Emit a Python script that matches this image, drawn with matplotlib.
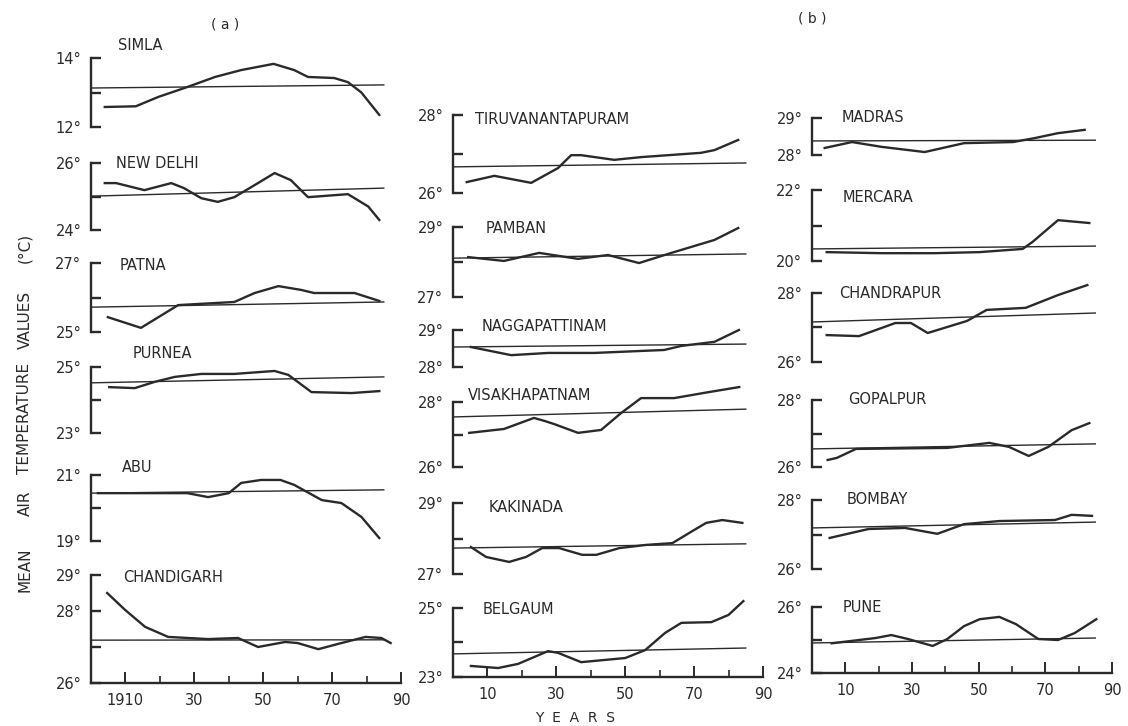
import matplotlib
matplotlib.use("Agg")
import matplotlib.pyplot as plt

# figure size in pixels (dpi 100)
W, H = 1128, 726
INK = "#2a2a2a"

# years counted from 1900, mean air temperature (deg C)
SIMLA_YR = [4, 13, 19.5, 28, 36, 43.6, 53, 59, 63, 70.6, 74.6, 78.5, 83.7]
SIMLA_T = [12.58, 12.6, 12.87, 13.16, 13.45, 13.65, 13.83, 13.65, 13.45, 13.42, 13.3, 13.0, 12.35]
DELHI_YR = [4, 7.3, 15.5, 23.3, 27, 32, 36.8, 41.6, 47.5, 53.3, 58, 63, 74.6, 80.5, 83.7]
DELHI_T = [25.4, 25.4, 25.19, 25.4, 25.25, 24.95, 24.84, 24.98, 25.34, 25.7, 25.49, 24.98, 25.07, 24.7, 24.3]
PATNA_YR = [4.9, 14.5, 25.3, 41.6, 47.5, 54.4, 61, 64.8, 76.5, 83.7]
PATNA_T = [25.43, 25.12, 25.78, 25.87, 26.13, 26.33, 26.22, 26.13, 26.13, 25.9]
PURNEA_YR = [5.3, 12.7, 18.5, 24.3, 32, 41.6, 53.3, 57.3, 64, 75.6, 83.7]
PURNEA_T = [24.39, 24.36, 24.55, 24.7, 24.79, 24.79, 24.88, 24.76, 24.24, 24.21, 24.27]
ABU_YR = [2, 28, 34, 40, 43.6, 49.4, 55, 59, 67, 72.7, 78.5, 83.7]
ABU_T = [20.45, 20.45, 20.33, 20.45, 20.76, 20.85, 20.85, 20.7, 20.24, 20.15, 19.73, 19.09]
CHANDIGARH_YR = [4.7, 9.9, 15.7, 22.4, 34, 42.7, 48.5, 56.4, 60, 66, 72.7, 79.7, 84.3, 87]
CHANDIGARH_T = [28.5, 28.03, 27.56, 27.28, 27.22, 27.25, 27.0, 27.14, 27.11, 26.94, 27.11, 27.28, 27.25, 27.11]

TIRUV_YR = [4, 12, 22.7, 30.5, 34.3, 37.2, 46.8, 54.6, 72, 75.9, 82.8]
TIRUV_T = [26.28, 26.44, 26.26, 26.64, 26.97, 26.97, 26.85, 26.92, 27.03, 27.1, 27.36]
PAMBAN_YR = [4.4, 14.8, 25, 36.3, 45, 54, 63.4, 75.9, 82.8]
PAMBAN_T = [28.14, 28.03, 28.26, 28.09, 28.2, 27.97, 28.26, 28.63, 28.97]
NAGG_YR = [5.2, 16.9, 27.6, 41, 61.3, 66.3, 75.9, 83]
NAGG_T = [28.54, 28.32, 28.38, 28.38, 28.46, 28.57, 28.68, 29.0]
VISAKH_YR = [4.7, 14.8, 23.5, 26.5, 29.4, 36.3, 43, 48.8, 54.6, 64.2, 74, 83.1]
VISAKH_T = [27.05, 27.17, 27.51, 27.42, 27.32, 27.05, 27.14, 27.66, 28.12, 28.12, 28.3, 28.46]
KAKINADA_YR = [5.2, 9.6, 16.3, 21.2, 25.9, 30.8, 37.5, 41.6, 48.3, 56.1, 63.7, 69.5, 73.5, 78.2, 84]
KAKINADA_T = [27.76, 27.48, 27.34, 27.48, 27.73, 27.73, 27.54, 27.54, 27.73, 27.82, 27.87, 28.21, 28.44, 28.52, 28.44]
BELGAUM_YR = [5.2, 13.1, 18.9, 27.6, 30.5, 37.2, 50, 55.8, 61.6, 66.3, 75, 80, 84.3]
BELGAUM_T = [23.32, 23.26, 23.38, 23.75, 23.7, 23.43, 23.55, 23.78, 24.28, 24.57, 24.59, 24.8, 25.2]

MADRAS_YR = [3.8, 12, 20.9, 33.8, 45.6, 60.3, 67, 73.8, 81.8]
MADRAS_T = [28.19, 28.35, 28.22, 28.08, 28.32, 28.35, 28.46, 28.59, 28.68]
MERCARA_YR = [4.4, 20.9, 36.8, 50.3, 63.2, 66.2, 73.8, 83.2]
MERCARA_T = [20.25, 20.22, 20.22, 20.25, 20.34, 20.54, 21.15, 21.07]
CHANDRAPUR_YR = [4.4, 14.1, 25, 29.7, 34.7, 46.5, 52.4, 64.1, 73.8, 82.6]
CHANDRAPUR_T = [26.78, 26.75, 27.13, 27.13, 26.84, 27.19, 27.51, 27.57, 27.94, 28.23]
GOPALPUR_YR = [4.7, 7.4, 13.2, 40.6, 53.2, 59.1, 65, 70.9, 77.9, 83.2]
GOPALPUR_T = [26.21, 26.27, 26.54, 26.57, 26.72, 26.6, 26.33, 26.6, 27.1, 27.31]
BOMBAY_YR = [5.3, 17, 27.9, 37.6, 45.6, 56.2, 72.9, 77.9, 84]
BOMBAY_T = [26.9, 27.16, 27.19, 27.02, 27.3, 27.39, 27.42, 27.57, 27.54]
PUNE_YR = [5.9, 19.1, 23.8, 28.8, 36.2, 40.6, 45.6, 50.3, 56.2, 61.2, 67.9, 73.8, 78.8, 85.3]
PUNE_T = [24.9, 25.06, 25.15, 25.03, 24.82, 25.03, 25.42, 25.63, 25.7, 25.48, 25.03, 25.0, 25.21, 25.63]

# linear trend line: value at start and end of TREND_YR
TREND_YR = [0, 85]
TRENDS = {
    "SIMLA": [13.13, 13.22], "NEW DELHI": [25.01, 25.25], "PATNA": [25.72, 25.87],
    "PURNEA": [24.52, 24.70], "ABU": [20.45, 20.55], "CHANDIGARH": [27.19, 27.2],
    "TIRUVANANTAPURAM": [26.67, 26.77], "PAMBAN": [28.11, 28.23], "NAGGAPATTINAM": [28.54, 28.62],
    "VISAKHAPATNAM": [27.54, 27.78], "KAKINADA": [27.73, 27.85], "BELGAUM": [23.67, 23.84],
    "MADRAS": [28.38, 28.40], "MERCARA": [20.34, 20.42], "CHANDRAPUR": [27.16, 27.42],
    "GOPALPUR": [26.54, 26.69], "BOMBAY": [27.19, 27.36], "PUNE": [24.91, 25.06],
}

# name, years, temps, y range, y ticks, labelled ticks
PANELS = [
    ("SIMLA", SIMLA_YR, SIMLA_T, (12, 14), [12, 13, 14], [12, 14]),
    ("NEW DELHI", DELHI_YR, DELHI_T, (24, 26), [24, 25, 26], [24, 26]),
    ("PATNA", PATNA_YR, PATNA_T, (25, 27), [25, 26, 27], [25, 27]),
    ("PURNEA", PURNEA_YR, PURNEA_T, (23, 25), [23, 24, 25], [23, 25]),
    ("ABU", ABU_YR, ABU_T, (19, 21), [19, 20, 21], [19, 21]),
    ("CHANDIGARH", CHANDIGARH_YR, CHANDIGARH_T, (26, 29), [26, 27, 28, 29], [26, 28, 29]),
    ("TIRUVANANTAPURAM", TIRUV_YR, TIRUV_T, (26, 28), [26, 27, 28], [26, 28]),
    ("PAMBAN", PAMBAN_YR, PAMBAN_T, (27, 29), [27, 28, 29], [27, 29]),
    ("NAGGAPATTINAM", NAGG_YR, NAGG_T, (28, 29), [28, 29], [28, 29]),
    ("VISAKHAPATNAM", VISAKH_YR, VISAKH_T, (26, 28), [26, 27, 28], [26, 28]),
    ("KAKINADA", KAKINADA_YR, KAKINADA_T, (27, 29), [27, 28, 29], [27, 29]),
    ("BELGAUM", BELGAUM_YR, BELGAUM_T, (23, 25), [23, 24, 25], [23, 25]),
    ("MADRAS", MADRAS_YR, MADRAS_T, (28, 29), [28, 29], [28, 29]),
    ("MERCARA", MERCARA_YR, MERCARA_T, (20, 22), [20, 21, 22], [20, 22]),
    ("CHANDRAPUR", CHANDRAPUR_YR, CHANDRAPUR_T, (26, 28), [26, 27, 28], [26, 28]),
    ("GOPALPUR", GOPALPUR_YR, GOPALPUR_T, (26, 28), [26, 27, 28], [26, 28]),
    ("BOMBAY", BOMBAY_YR, BOMBAY_T, (26, 28), [26, 27, 28], [26, 28]),
    ("PUNE", PUNE_YR, PUNE_T, (24, 26), [24, 25, 26], [24, 26]),
]
X_MAJOR = [10, 30, 50, 70, 90]
X_MINOR = [20, 40, 60, 80]
X_LABELS_A = ["1910", "30", "50", "70", "90"]
X_LABELS_B = ["10", "30", "50", "70", "90"]

# layout in pixels: column, top, bottom of bracket, title x, title y
COL_LEFT = [91, 453, 812]
COL_W = [310, 310, 300]
BOXES = [
    (0, 58, 127, 118, 45), (0, 163, 230, 116, 163), (0, 263, 332, 120, 265),
    (0, 367, 433, 133, 353), (0, 475, 541, 122, 468), (0, 575, 683, 123, 578),
    (1, 115, 193, 475, 120), (1, 227, 297, 486, 228), (1, 330, 367, 482, 327),
    (1, 402, 467, 468, 395), (1, 503, 574, 489, 507), (1, 608, 677, 483, 610),
    (2, 118, 155, 842, 117), (2, 190, 261, 843, 197), (2, 293, 362, 839, 293),
    (2, 400, 467, 848, 400), (2, 500, 569, 847, 500), (2, 607, 673, 843, 607),
]

plt.rcParams["font.family"] = ["DejaVu Sans"]
fig = plt.figure(figsize=(W / 100, H / 100), dpi=100)
fig.patch.set_facecolor("white")

for i, (name, yrs, temps, (lo, hi), yt, ylab) in enumerate(PANELS):
    col, top, bot, tx, ty = BOXES[i]
    left = COL_LEFT[col]
    ax = fig.add_axes([left / W, 1 - bot / H, COL_W[col] / W, (bot - top) / H])
    ax.set_facecolor("none")
    ax.set_xlim(0, 90)
    ax.set_ylim(lo, hi)

    ax.plot(TREND_YR, TRENDS[name], color=INK, lw=1.0, clip_on=False)
    ax.plot(yrs, temps, color=INK, lw=1.7, clip_on=False, solid_joinstyle="round")

    for side in ("top", "right"):
        ax.spines[side].set_visible(False)
    ax.spines["left"].set_color(INK)
    ax.spines["left"].set_linewidth(1.7)

    ax.set_yticks(yt)
    ax.set_yticklabels([f"{t}°" if t in ylab else "" for t in yt])
    ax.tick_params(axis="y", direction="in", length=7, width=1.7, colors=INK,
                   labelsize=10.5, pad=7)

    last_in_col = i in (5, 11, 17)
    if last_in_col:
        ax.spines["bottom"].set_color(INK)
        ax.spines["bottom"].set_linewidth(1.7)
        ax.set_xticks(X_MAJOR)
        ax.set_xticks(X_MINOR, minor=True)
        ax.set_xticklabels(X_LABELS_A if col == 0 else X_LABELS_B)
        ax.tick_params(axis="x", which="major", direction="in", length=8, width=1.4,
                       colors=INK, labelsize=10.5, pad=7)
        ax.tick_params(axis="x", which="minor", direction="in", length=5, width=1.2,
                       colors=INK)
    else:
        ax.spines["bottom"].set_visible(False)
        ax.set_xticks([])

    fig.text(tx / W, 1 - ty / H, name, fontsize=10.5, color=INK,
             ha="left", va="center")

# panel headers and axis titles
fig.text(225 / W, 1 - 25 / H, "( a )", fontsize=10, color=INK, ha="center", va="center")
fig.text(812 / W, 1 - 18 / H, "( b )", fontsize=10, color=INK, ha="center", va="center")
fig.text(575 / W, 1 - 718 / H, "Y  E  A  R  S", fontsize=10, color=INK,
         ha="center", va="center")
for word, yc in [("MEAN", 570), ("AIR", 503), ("TEMPERATURE", 418),
                 ("VALUES", 320), ("(°C)", 248)]:
    fig.text(25 / W, 1 - yc / H, word, fontsize=11, color=INK, rotation=90,
             ha="center", va="center")

fig.savefig("out.png", dpi=100, facecolor="white")
